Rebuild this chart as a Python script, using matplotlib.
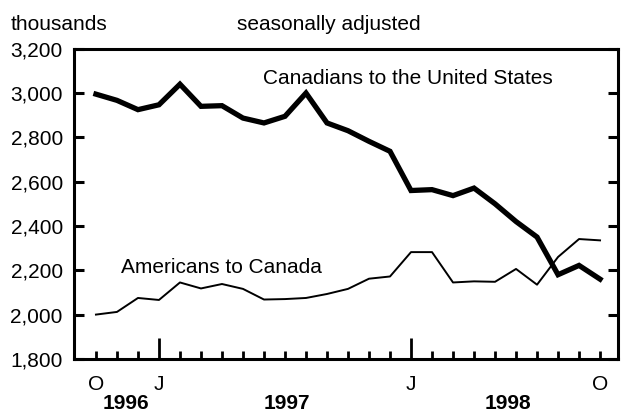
import numpy as np
import matplotlib.pyplot as plt
from matplotlib.ticker import FuncFormatter

plt.rcParams['font.family'] = ['Liberation Sans', 'DejaVu Sans']

# monthly, Oct 1996 .. Oct 1998 (thousands, seasonally adjusted)
canadians_to_us = [2995, 2967, 2925, 2947, 3040, 2940, 2943, 2887, 2865, 2895,
                   3000, 2865, 2830, 2782, 2737, 2560, 2564, 2537, 2571, 2500,
                   2420, 2350, 2180, 2222, 2160]
americans_to_canada = [2000, 2012, 2075, 2066, 2145, 2118, 2138, 2116, 2068, 2070,
                       2075, 2093, 2116, 2162, 2172, 2282, 2282, 2145, 2150, 2148,
                       2206, 2135, 2260, 2341, 2335]
month_labels = {0: 'O', 3: 'J', 15: 'J', 24: 'O'}
year_labels = [('1996', 1.45), ('1997', 9.1), ('1998', 19.6)]

months = np.arange(len(canadians_to_us))

fig = plt.figure(figsize=(6.21, 4.13), dpi=100)
ax = fig.add_axes([0.119, 0.131, 0.876, 0.751])

ax.plot(months, canadians_to_us, color='black', lw=3.8, solid_joinstyle='miter')
ax.plot(months, americans_to_canada, color='black', lw=1.4)

ax.set_xlim(-1.05, 24.85)
ax.set_ylim(1800, 3200)
ax.set_yticks(np.arange(1800, 3201, 200))
ax.yaxis.set_major_formatter(FuncFormatter(lambda v, p: f'{int(v):,}'))

for s in ax.spines.values():
    s.set_linewidth(2.2)

ax.tick_params(axis='y', direction='in', length=7, width=2.2, labelsize=15,
               right=True, pad=8)

# month ticks drawn as inward marks, taller at January
ax.set_xticks([])
px = 1400 / (0.751 * 413)
for m in months:
    h = 21 if m in (3, 15) else 8
    ax.plot([m, m], [1800, 1800 + h * px], color='black', lw=2.0,
            clip_on=False, solid_capstyle='butt')

for m, lab in month_labels.items():
    ax.text(m, -0.10, lab, transform=ax.get_xaxis_transform(), ha='center',
            va='baseline', fontsize=15)
for lab, x in year_labels:
    ax.text(x, -0.163, lab, transform=ax.get_xaxis_transform(), ha='center',
            va='baseline', fontsize=15, fontweight='bold')

ax.text(7.95, 3041, 'Canadians to the United States', fontsize=15, va='baseline')
ax.text(1.19, 2188, 'Americans to Canada', fontsize=15, va='baseline')

fig.text(0.017, 0.927, 'thousands', fontsize=15, va='baseline')
fig.text(0.381, 0.927, 'seasonally adjusted', fontsize=15, va='baseline')

fig.savefig('out.png', dpi=100)
